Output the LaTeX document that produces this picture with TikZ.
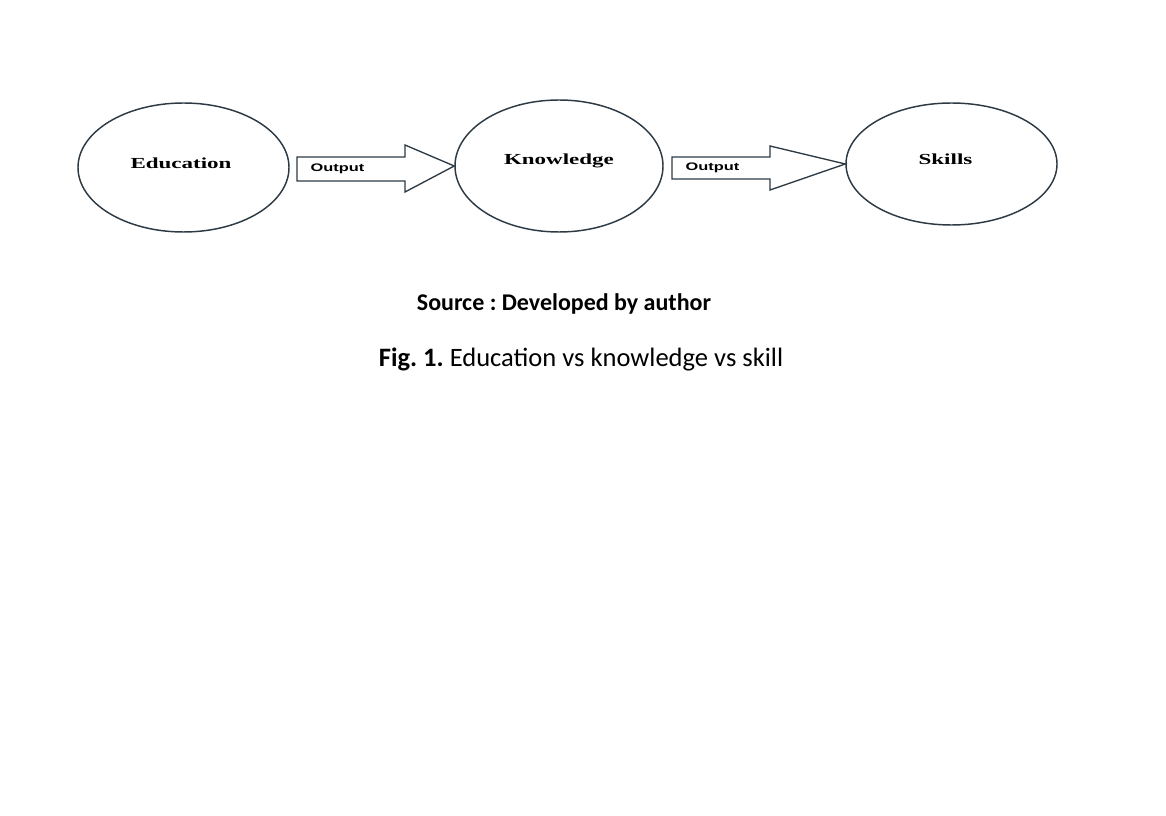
\documentclass[tikz,border=0pt]{standalone}
\usepackage{fontspec}
\usepackage{graphicx}
\setmainfont{Liberation Serif}
\newfontfamily\arialfont{Liberation Sans}
\newfontfamily\calfont{Carlito}
\usetikzlibrary{shapes.geometric}
\definecolor{linec}{RGB}{45,58,68}
\frenchspacing
\tikzset{
  bubble/.style={draw=linec, line width=1.1pt, ellipse, inner sep=0pt},
  bubbletext/.style={font=\fontsize{11.5}{13}\selectfont\bfseries, inner sep=0pt},
  blockarrow/.style={draw=linec, line width=1pt, fill=white, line join=miter},
  arrowtext/.style={font=\arialfont\fontsize{8.2}{10}\selectfont\bfseries, inner sep=0pt},
}
\newcommand{\wide}[1]{\scalebox{1.5}[1]{#1}}
\begin{document}
\begin{tikzpicture}[x=0.75pt,y=-0.75pt]
\useasboundingbox (0,0) rectangle (1166,816);
% ellipses
\node[bubble, minimum width=158.25pt, minimum height=96.75pt] (edu) at (183.5,167.5) {};
\node[bubble, minimum width=156pt, minimum height=99pt] (kno) at (559,166) {};
\node[bubble, minimum width=158.25pt, minimum height=91.5pt] (ski) at (951.5,164) {};
\node[bubbletext] (edut) at (181,163) {\wide{Education}};
\node[bubbletext] (knot) at (559,161) {\wide{Knowledge}};
\node[bubbletext] (skit) at (945.5,159) {\wide{Skills}};
% block arrows
\draw[blockarrow] (297,157) -- (405,157) -- (405,145) -- (kno.west) -- (405,192) -- (405,181) -- (297,181) -- cycle;
\draw[blockarrow] (672,157) -- (770,157) -- (770,146) -- (ski.west) -- (770,190) -- (770,179) -- (672,179) -- cycle;
\node[arrowtext] (o1) at (337.5,169) {\wide{Output}};
\node[arrowtext] (o2) at (712.5,168) {\wide{Output}};
% captions
\node[font=\calfont\fontsize{18}{21}\selectfont\bfseries, inner sep=0pt] (src) at (564,304) {Source : Developed by author};
\node[font=\calfont\fontsize{19.9}{24}\selectfont, inner sep=0pt] (fig) at (581,359) {\textbf{Fig. 1.} Education vs knowledge vs skill};
\end{tikzpicture}
\end{document}
